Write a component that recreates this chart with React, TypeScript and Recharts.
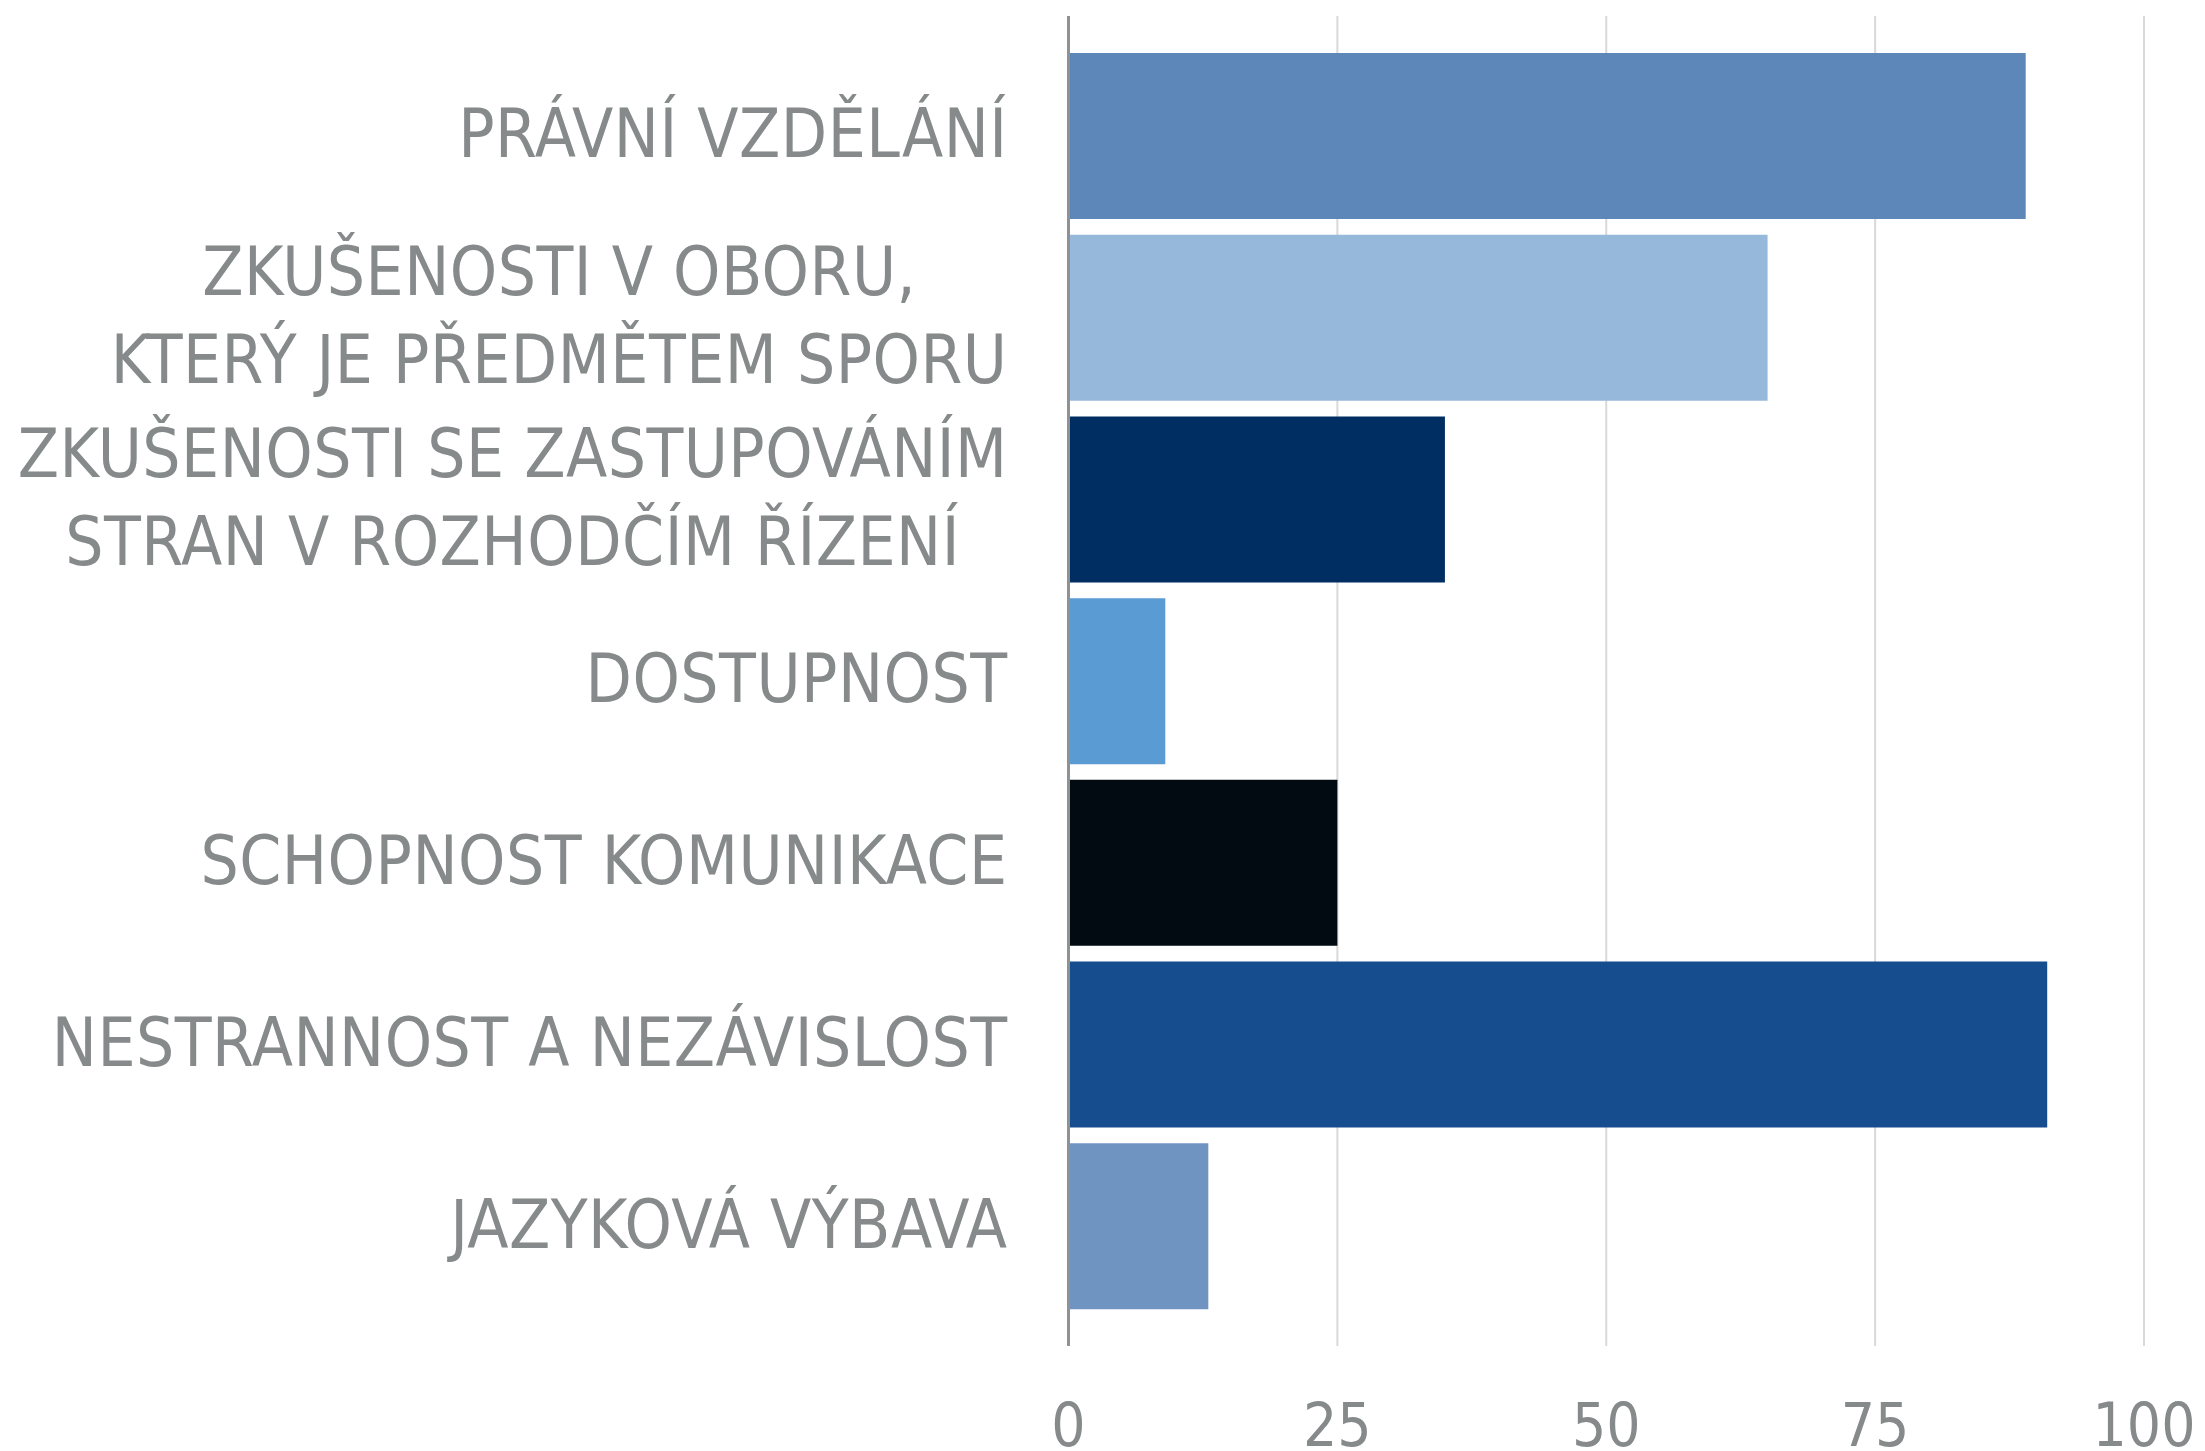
import React from 'react';
import { BarChart, Bar, XAxis, YAxis, CartesianGrid, Cell } from 'recharts';

const categories: string[] = [
  'PRÁVNÍ VZDĚLÁNÍ',
  'ZKUŠENOSTI V OBORU,\nKTERÝ JE PŘEDMĚTEM SPORU',
  'ZKUŠENOSTI SE ZASTUPOVÁNÍM\nSTRAN V ROZHODČÍM ŘÍZENÍ',
  'DOSTUPNOST',
  'SCHOPNOST KOMUNIKACE',
  'NESTRANNOST A NEZÁVISLOST',
  'JAZYKOVÁ VÝBAVA',
];
const values: number[] = [89, 65, 35, 9, 25, 91, 13];
const barColors: string[] = ['#5E87B9', '#96B8DB', '#002D62', '#5B9BD3', '#020A12', '#164D8E', '#6F94C2'];
const xTicks: number[] = [0, 25, 50, 75, 100];

const data = categories.map((name, i) => ({ name, value: values[i] }));

const FONT = "'DejaVu Sans Condensed', 'DejaVu Sans', sans-serif";
const LABEL_SIZE = 67;
const LABEL_SPACING = 0.5;
const TICK_SIZE = 60;
const TEXT_COLOR = '#868A8A';

let ctx: CanvasRenderingContext2D | null = null;
function measure(t: string, size: number, spacing: number): number {
  if (!ctx) ctx = document.createElement('canvas').getContext('2d');
  if (!ctx) return t.length * (size * 0.55 + spacing);
  ctx.font = `${size}px ${FONT}`;
  return ctx.measureText(t).width + spacing * t.length;
}

const YTick = (props: any) => {
  const { x, y, payload } = props;
  const lines = String(payload.value).split('\n');
  const maxW = Math.max(...lines.map((l) => measure(l, LABEL_SIZE, LABEL_SPACING)));
  const cx = x - maxW / 2;
  const lineGap = 88;
  const startY = y - ((lines.length - 1) * lineGap) / 2;
  const capHalf = (LABEL_SIZE * 0.729) / 2 - 3;
  return (
    <g>
      {lines.map((l, i) => (
        <text
          key={i}
          x={cx}
          y={startY + i * lineGap + capHalf}
          textAnchor="middle"
          fill={TEXT_COLOR}
          fontFamily={FONT}
          fontSize={LABEL_SIZE}
          letterSpacing={LABEL_SPACING}
          style={{ fontStretch: 'condensed' }}
        >
          {l}
        </text>
      ))}
    </g>
  );
};

const XTick = (props: any) => {
  const { x, y, payload } = props;
  return (
    <text
      x={x}
      y={y + 100}
      textAnchor="middle"
      fill={TEXT_COLOR}
      fontFamily={FONT}
      fontSize={TICK_SIZE}
      style={{ fontStretch: 'condensed' }}
    >
      {payload.value}
    </text>
  );
};

export default function App() {
  return (
    <div style={{ position: 'absolute', left: 0, top: 0, background: '#fff' }}>
      <BarChart
        width={2205}
        height={1451}
        data={data}
        layout="vertical"
        margin={{ top: 16, right: 61, bottom: 0, left: 0 }}
      >
        <CartesianGrid horizontal={false} vertical={true} stroke="#D9D9D9" strokeWidth={2} />
        <XAxis
          type="number"
          domain={[0, 100]}
          ticks={xTicks}
          axisLine={false}
          tickLine={false}
          tickSize={0}
          tickMargin={0}
          height={105}
          tick={<XTick />}
          interval={0}
        />
        <YAxis
          type="category"
          dataKey="name"
          width={1068.5}
          axisLine={{ stroke: '#8E9292', strokeWidth: 3 }}
          tickLine={false}
          tickSize={0}
          tickMargin={61}
          padding={{ top: 29, bottom: 29 }}
          tick={<YTick />}
          interval={0}
        />
        <Bar dataKey="value" barSize={166} isAnimationActive={false}>
          {data.map((d, i) => (
            <Cell key={i} fill={barColors[i]} />
          ))}
        </Bar>
      </BarChart>
    </div>
  );
}
